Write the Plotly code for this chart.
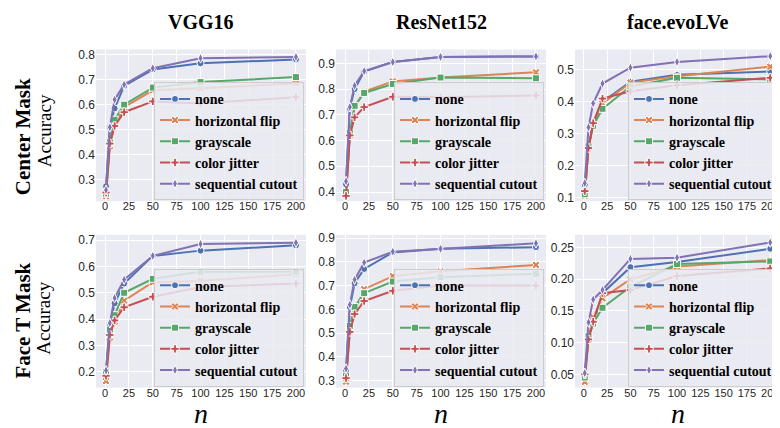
import plotly.graph_objects as go

# ---------------- data ----------------
n_values = [1, 5, 10, 20, 50, 100, 200]
methods = ["none", "horizontal flip", "grayscale", "color jitter", "sequential cutout"]
columns = ["VGG16", "ResNet152", "face.evoLVe"]
rows = ["Center Mask", "Face T Mask"]

# Center Mask
vgg_center_none  = [0.275, 0.510, 0.585, 0.675, 0.740, 0.765, 0.780]
vgg_center_hflip = [0.235, 0.435, 0.520, 0.590, 0.657, 0.665, 0.685]
vgg_center_gray  = [0.245, 0.450, 0.540, 0.600, 0.668, 0.690, 0.710]
vgg_center_jit   = [0.250, 0.445, 0.515, 0.570, 0.613, 0.605, 0.630]
vgg_center_seq   = [0.260, 0.510, 0.620, 0.680, 0.745, 0.785, 0.790]

res_center_none  = [0.430, 0.725, 0.800, 0.868, 0.905, 0.925, 0.927]
res_center_hflip = [0.390, 0.620, 0.730, 0.790, 0.830, 0.845, 0.865]
res_center_gray  = [0.400, 0.630, 0.735, 0.785, 0.820, 0.845, 0.842]
res_center_jit   = [0.385, 0.620, 0.690, 0.730, 0.770, 0.768, 0.775]
res_center_seq   = [0.442, 0.730, 0.813, 0.870, 0.905, 0.925, 0.927]

face_center_none  = [0.140, 0.260, 0.330, 0.400, 0.463, 0.485, 0.495]
face_center_hflip = [0.105, 0.255, 0.330, 0.395, 0.460, 0.480, 0.510]
face_center_gray  = [0.110, 0.260, 0.325, 0.378, 0.448, 0.475, 0.470]
face_center_jit   = [0.120, 0.255, 0.333, 0.410, 0.433, 0.452, 0.475]
face_center_seq   = [0.145, 0.320, 0.395, 0.457, 0.507, 0.525, 0.543]

# Face T Mask
vgg_t_none  = [0.200, 0.375, 0.460, 0.535, 0.640, 0.660, 0.680]
vgg_t_hflip = [0.165, 0.330, 0.390, 0.470, 0.540, 0.545, 0.570]
vgg_t_gray  = [0.200, 0.360, 0.415, 0.500, 0.553, 0.580, 0.580]
vgg_t_jit   = [0.185, 0.340, 0.395, 0.445, 0.485, 0.522, 0.535]
vgg_t_seq   = [0.205, 0.385, 0.480, 0.550, 0.640, 0.685, 0.690]

res_t_none  = [0.340, 0.610, 0.710, 0.770, 0.840, 0.855, 0.862]
res_t_hflip = [0.295, 0.510, 0.590, 0.685, 0.740, 0.760, 0.787]
res_t_gray  = [0.320, 0.530, 0.610, 0.668, 0.717, 0.735, 0.750]
res_t_jit   = [0.310, 0.505, 0.580, 0.635, 0.678, 0.700, 0.700]
res_t_seq   = [0.350, 0.620, 0.725, 0.797, 0.843, 0.855, 0.878]

face_t_none  = [0.050, 0.110, 0.130, 0.178, 0.219, 0.227, 0.248]
face_t_hflip = [0.038, 0.105, 0.140, 0.170, 0.200, 0.220, 0.230]
face_t_gray  = [0.045, 0.110, 0.130, 0.155, 0.188, 0.224, 0.228]
face_t_jit   = [0.050, 0.105, 0.133, 0.178, 0.183, 0.205, 0.217]
face_t_seq   = [0.052, 0.132, 0.168, 0.183, 0.232, 0.234, 0.258]

panels = [
    [vgg_center_none, vgg_center_hflip, vgg_center_gray, vgg_center_jit, vgg_center_seq],
    [res_center_none, res_center_hflip, res_center_gray, res_center_jit, res_center_seq],
    [face_center_none, face_center_hflip, face_center_gray, face_center_jit, face_center_seq],
    [vgg_t_none, vgg_t_hflip, vgg_t_gray, vgg_t_jit, vgg_t_seq],
    [res_t_none, res_t_hflip, res_t_gray, res_t_jit, res_t_seq],
    [face_t_none, face_t_hflip, face_t_gray, face_t_jit, face_t_seq],
]

y_ranges = [[0.215, 0.82], [0.364, 0.954], [0.088, 0.564],
            [0.14, 0.72], [0.27, 0.914], [0.029, 0.27]]
y_dtick = [0.1, 0.1, 0.1, 0.1, 0.1, 0.05]
y_fmt = [".1f", ".1f", ".1f", ".1f", ".1f", ".2f"]

# ---------------- style ----------------
colors = ["#4C72B0", "#DD8452", "#55A868", "#C44E52", "#8172B3"]
symbols = ["circle", "x", "square", "cross", "diamond-tall"]
SERIF = "Liberation Serif"
SANS = "Liberation Sans"

W, H = 780, 428
x_dom_px = [(88, 298), (328, 538), (567, 772)]
y_dom_px = [(39, 193), (227, 382)]  # top, bottom in px from top

fig = go.Figure()
layout = dict(
    width=W, height=H,
    margin=dict(l=0, r=0, t=0, b=0),
    paper_bgcolor="white",
    plot_bgcolor="#EAEAF2",
    showlegend=True,
    font=dict(family=SERIF, color="black"),
)

annotations = []
for p in range(6):
    r, c = divmod(p, 3)
    k = p + 1
    xa = "xaxis" if k == 1 else f"xaxis{k}"
    ya = "yaxis" if k == 1 else f"yaxis{k}"
    xref = "x" if k == 1 else f"x{k}"
    yref = "y" if k == 1 else f"y{k}"
    lg = "legend" if k == 1 else f"legend{k}"
    x0, x1 = x_dom_px[c]
    yt, yb = y_dom_px[r]
    layout[xa] = dict(
        domain=[x0 / W, x1 / W], anchor=yref, range=[-9.5, 210.5],
        tickvals=[0, 25, 50, 75, 100, 125, 150, 175, 200],
        showgrid=True, gridcolor="white", gridwidth=1, zeroline=False,
        showline=False, ticks="", ticklabelstandoff=-3,
        tickfont=dict(family=SANS, size=11, color="#262626"),
    )
    layout[ya] = dict(
        domain=[1 - yb / H, 1 - yt / H], anchor=xref, range=y_ranges[p],
        dtick=y_dtick[p], tick0=0, tickformat=y_fmt[p],
        showgrid=True, gridcolor="white", gridwidth=1, zeroline=False,
        showline=False, ticks="",
        tickfont=dict(family=SANS, size=12, color="#262626"),
    )
    layout[lg] = dict(
        x=(x1 - 2) / W, xanchor="right",
        y=1 - (yb - 1) / H, yanchor="bottom",
        bgcolor="rgba(234,234,242,0.85)", bordercolor="#CCCCCC", borderwidth=1,
        font=dict(family=SERIF, size=14, color="#000000"),
        itemwidth=30, tracegroupgap=0,
    )
    for i, m in enumerate(methods):
        fig.add_trace(go.Scatter(
            x=n_values, y=panels[p][i], name=f"<b>{m}</b>", mode="lines+markers",
            line=dict(color=colors[i], width=2),
            marker=dict(symbol=symbols[i], size=7, color=colors[i],
                        line=dict(color="white", width=1)),
            xaxis=xref, yaxis=yref, legend=lg,
        ))

# column titles and n labels
for c, t in enumerate(columns):
    x0, x1 = x_dom_px[c]
    annotations.append(dict(text=f"<b>{t}</b>", x=(x0 + x1) / 2 / W, y=1 - 11 / H,
                            xref="paper", yref="paper", showarrow=False,
                            font=dict(family=SERIF, size=20, color="black"),
                            xanchor="center", yanchor="middle"))
    annotations.append(dict(text="<i>n</i>", x=(x0 + x1) / 2 / W, y=2 / H,
                            xref="paper", yref="paper", showarrow=False,
                            font=dict(family=SERIF, size=28, color="black"),
                            xanchor="center", yanchor="bottom"))

# row titles
row_centers = [128, 314]
acc_centers = [122, 312]
for r, t in enumerate(rows):
    annotations.append(dict(text=f"<b>{t}</b>", x=15 / W, y=1 - row_centers[r] / H,
                            xref="paper", yref="paper", showarrow=False, textangle=-90,
                            font=dict(family=SERIF, size=21, color="black"),
                            xanchor="center", yanchor="middle"))
    annotations.append(dict(text="Accuracy", x=36 / W, y=1 - acc_centers[r] / H,
                            xref="paper", yref="paper", showarrow=False, textangle=-90,
                            font=dict(family=SERIF, size=19, color="black"),
                            xanchor="center", yanchor="middle"))

layout["annotations"] = annotations
fig.update_layout(**layout)
fig.write_html("out.html")
